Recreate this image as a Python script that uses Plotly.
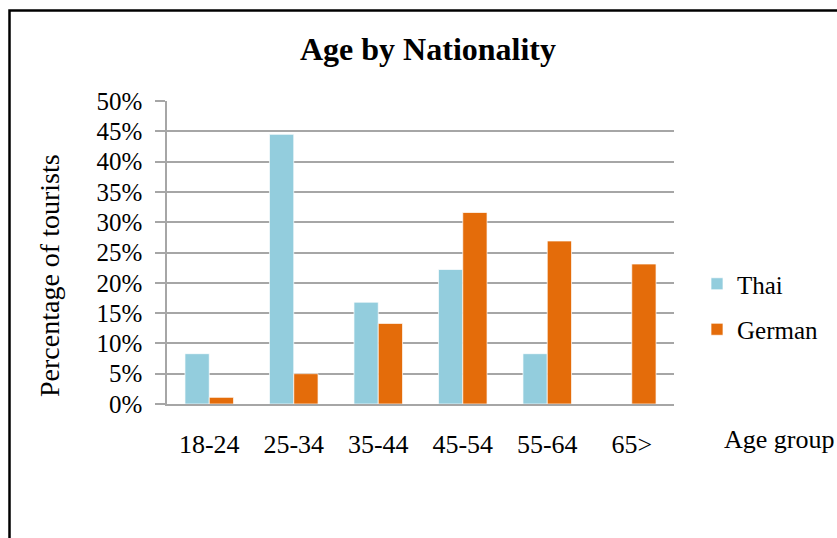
import plotly.graph_objects as go

# Share of tourists in each age group, by nationality (percent)
age_groups = ["18-24", "25-34", "35-44", "45-54", "55-64", "65>"]
thai = [8.3, 44.5, 16.8, 22.2, 8.3, 0.0]
german = [1.1, 5.0, 13.3, 31.6, 26.9, 23.1]
y_ticks = [0, 5, 10, 15, 20, 25, 30, 35, 40, 45, 50]
y_tick_labels = [f"{v}%" for v in y_ticks]

W, H = 837, 538
L, R, T, B = 167, 163, 101, 134
plot_w = W - L - R
plot_h = H - T - B

FONT = "Liberation Serif"
GRID = "#a6a6a6"

fig = go.Figure()
fig.add_trace(go.Bar(
    x=age_groups, y=thai, name="Thai", legendgroup="thai",
    marker=dict(color="#93cddd", line=dict(color="rgba(255,255,255,0.7)", width=1)),
))
fig.add_trace(go.Bar(
    x=age_groups, y=german, name="German", legendgroup="german",
    marker=dict(color="#e46c0a", line=dict(color="rgba(255,255,255,0.7)", width=1)),
))


def px_x(px):
    return (px - L) / plot_w


def px_y(py):
    return (H - B - py) / plot_h


fig.update_layout(
    width=W, height=H,
    margin=dict(l=L, r=R, t=T, b=B, autoexpand=False),
    paper_bgcolor="white", plot_bgcolor="white",
    font=dict(family=FONT, color="black"),
    barmode="group", bargap=0.425, bargroupgap=0,
    showlegend=True,
    legend=dict(
        x=px_x(697), y=px_y(261), xanchor="left", yanchor="top",
        font=dict(family=FONT, size=25, color="black"),
        tracegroupgap=10, bgcolor="rgba(0,0,0,0)",
    ),
    xaxis=dict(
        showgrid=False, showline=True, linecolor=GRID, linewidth=1.5,
        ticks="", ticklabelstandoff=16,
        tickfont=dict(family=FONT, size=26, color="black"),
        fixedrange=True,
    ),
    yaxis=dict(
        range=[0, 50], tickmode="array", tickvals=y_ticks, ticktext=y_tick_labels,
        showgrid=True, gridcolor=GRID, gridwidth=1.5,
        showline=True, linecolor=GRID, linewidth=1.5,
        ticks="outside", ticklen=10, tickcolor=GRID, tickwidth=1.5,
        ticklabelstandoff=8,
        tickfont=dict(family=FONT, size=25, color="black"),
        zeroline=False, fixedrange=True,
    ),
    annotations=[
        dict(text="<b>Age by Nationality</b>", xref="paper", yref="paper",
             x=px_x(428), y=px_y(49), xanchor="center", yanchor="middle",
             showarrow=False, font=dict(family=FONT, size=32, color="black")),
        dict(text="Percentage of tourists", xref="paper", yref="paper",
             x=px_x(49), y=px_y(276), xanchor="center", yanchor="middle",
             textangle=-90, showarrow=False,
             font=dict(family=FONT, size=28, color="black")),
        dict(text="Age group", xref="paper", yref="paper",
             x=px_x(722), y=px_y(439), xanchor="left", yanchor="middle",
             showarrow=False, font=dict(family=FONT, size=26, color="black")),
    ],
    shapes=[
        dict(type="rect", xref="paper", yref="paper",
             x0=px_x(9.5), y0=px_y(560), x1=px_x(860), y1=px_y(10.5),
             line=dict(color="black", width=2.5), fillcolor="rgba(0,0,0,0)",
             layer="above"),
    ],
)

fig.write_html("out.html", config=dict(displayModeBar=False))
